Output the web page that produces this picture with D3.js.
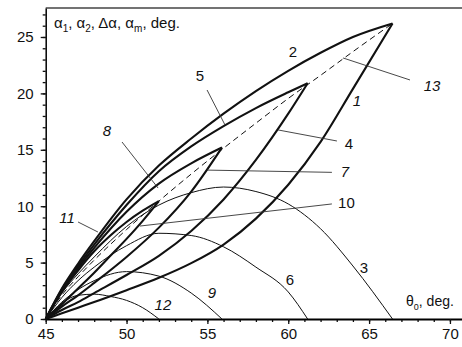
<!DOCTYPE html>
<meta charset="utf-8">
<style>
  body { margin: 0; background: #fff; }
  svg text { font-family: Arial, 'Liberation Sans', sans-serif; fill: #111; }
</style>
<body>
<div id="chart"></div>
<script src="https://d3js.org/d3.v7.min.js"></script>
<script>
// theta0 grids (deg.)
var thBig = [45, 46, 47, 48, 50, 52, 54, 56, 58, 60, 62, 64, 66.45];
var thMid = [45, 46, 47, 48, 50, 52, 54, 56, 58, 60, 61.2];
var thSmall = [45, 46, 47, 48, 50, 52, 54, 55.9];
var thTiny = [45, 46, 47, 48, 49, 50, 51, 52];

// curves (deg.)
var curve1 = [0, 0.5, 1.0, 1.5, 2.55, 3.65, 4.95, 6.6, 8.9, 11.9, 15.7, 20.4, 26.2];
var curve2 = [0, 2.7, 4.9, 6.9, 10.6, 13.6, 16.0, 18.2, 20.2, 22.0, 23.6, 25.0, 26.2];
var curve3 = [0, 2.3, 4.0, 5.5, 8.2, 10.1, 11.2, 11.7, 11.3, 10.2, 8.0, 4.7, 0];
var curve13 = [0, 2.12, 3.74, 5.22, 7.93, 10.45, 12.85, 15.14, 17.36, 19.55, 21.6, 23.7, 26.2];

var curve4 = [0, 0.8, 1.5, 2.3, 3.9, 5.6, 7.8, 10.6, 14.1, 18.2, 20.9];
var curve5 = [0, 2.6, 4.7, 6.6, 10.1, 13.1, 15.3, 17.1, 18.7, 20.1, 20.9];
var curve6 = [0, 1.9, 3.4, 4.6, 6.5, 7.6, 7.4, 6.4, 4.6, 2.4, 0];

var curve7 = [0, 1.1, 2.1, 3.2, 5.5, 8.1, 11.3, 15.2];
var curve8 = [0, 2.5, 4.5, 6.3, 9.5, 12.0, 13.8, 15.2];
var curve9 = [0, 1.5, 2.6, 3.4, 4.2, 3.8, 2.3, 0];

var curve10 = [0, 1.3, 2.7, 4.1, 5.6, 7.1, 8.7, 10.45];
var curve11 = [0, 2.4, 4.3, 6.0, 7.4, 8.6, 9.6, 10.45];
var curve12 = [0, 1.4, 2.1, 2.2, 2.0, 1.65, 1.0, 0];

var xTicks = [45, 50, 55, 60, 65, 70];
var yTicks = [0, 5, 10, 15, 20, 25];

// curve labels: [text, theta, value, italic]
var labels = [
  ["1", 64.25, 19.33, true], ["2", 60.29, 23.67, false], ["3", 64.68, 4.52, false],
  ["4", 63.76, 15.51, false], ["5", 54.54, 21.54, false], ["6", 60.11, 3.46, false],
  ["7", 63.51, 13.03, true], ["8", 48.79, 16.67, true], ["9", 55.28, 2.3, true],
  ["10", 63.6, 10.28, false], ["11", 46.32, 8.95, true], ["12", 52.25, 1.24, true],
  ["13", 68.89, 20.66, true]
];
// leader lines: [theta1, v1, theta2, v2]
var leaders = [
  [63.39, 23.14, 67.53, 21.19], [59.37, 16.76, 63.01, 15.78], [54.98, 20.3, 56.09, 17.2],
  [49.72, 15.69, 51.95, 11.61], [54.98, 13.2, 62.7, 13.0], [50.83, 8.24, 62.7, 10.2],
  [47.0, 8.6, 48.23, 7.71]
];

var W = 462, H = 347;
var svg = d3.select("#chart").append("svg")
    .attr("width", W).attr("height", H);

var x = d3.scaleLinear().domain([45, 71]).range([45.7, 466.1]);
var y = d3.scaleLinear().domain([0, 27.57]).range([319, 8]);

// frame top line
svg.append("line")
    .attr("x1", x(45)).attr("x2", W)
    .attr("y1", y(27.57)).attr("y2", y(27.57))
    .attr("stroke", "#444").attr("stroke-width", 1.3);

// minor ticks
svg.append("g")
    .attr("transform", "translate(0," + y(0) + ")")
    .call(d3.axisBottom(x).tickValues(d3.range(45, 71, 1)).tickSize(3).tickFormat(""))
    .call(function(g) { g.select(".domain").remove(); });
svg.append("g")
    .attr("transform", "translate(" + x(45) + ",0)")
    .call(d3.axisLeft(y).tickValues(d3.range(0, 28, 1)).tickSize(3).tickFormat(""))
    .call(function(g) { g.select(".domain").remove(); });

// major axes
var xAxis = svg.append("g")
    .attr("transform", "translate(0," + y(0) + ")")
    .call(d3.axisBottom(x).tickValues(xTicks).tickSize(5).tickSizeOuter(0).tickPadding(4));
xAxis.select(".domain").attr("stroke-width", 2);
var yAxis = svg.append("g")
    .attr("transform", "translate(" + x(45) + ",0)")
    .call(d3.axisLeft(y).tickValues(yTicks).tickSize(5).tickSizeOuter(0).tickPadding(7));
yAxis.select(".domain").attr("stroke-width", 1.5);
svg.selectAll(".tick line").attr("stroke", "#111").attr("stroke-width", 1.3);
svg.selectAll(".tick text").style("font-size", "15px").attr("fill", "#111");

var line = d3.line()
    .x(function(d) { return x(d[0]); })
    .y(function(d) { return y(d[1]); })
    .curve(d3.curveMonotoneX);

function draw(th, vals, width, dash) {
  svg.append("path")
      .datum(d3.zip(th, vals))
      .attr("d", line)
      .attr("fill", "none")
      .attr("stroke", "#111")
      .attr("stroke-width", width)
      .attr("stroke-dasharray", dash || null)
      .attr("stroke-linejoin", "miter");
}

// thin delta-alpha curves
draw(thBig, curve3, 1);
draw(thMid, curve6, 1);
draw(thSmall, curve9, 1);
draw(thTiny, curve12, 1);
// dashed mean
draw(thBig, curve13, 1, "6,4");
// thick lens curves
draw(thBig, curve1, 2.1);
draw(thBig, curve2, 2.1);
draw(thMid, curve4, 2.1);
draw(thMid, curve5, 2.1);
draw(thSmall, curve7, 2.1);
draw(thSmall, curve8, 2.1);
draw(thTiny, curve10, 2.1);
draw(thTiny, curve11, 2.1);

// leaders
svg.selectAll(".leader").data(leaders).enter().append("line")
    .attr("x1", function(d) { return x(d[0]); })
    .attr("y1", function(d) { return y(d[1]); })
    .attr("x2", function(d) { return x(d[2]); })
    .attr("y2", function(d) { return y(d[3]); })
    .attr("stroke", "#333").attr("stroke-width", 0.9);

svg.selectAll(".lbl").data(labels).enter().append("text")
    .attr("x", function(d) { return x(d[1]); })
    .attr("y", function(d) { return y(d[2]); })
    .attr("text-anchor", "middle")
    .attr("dy", "0.35em")
    .style("font-size", "15px")
    .style("font-style", function(d) { return d[3] ? "italic" : "normal"; })
    .text(function(d) { return d[0]; });

// axis titles
var t1 = svg.append("text").attr("x", 54).attr("y", 28).style("font-size", "15px");
[["α", "1", ", "], ["α", "2", ", Δα, "], ["α", "m", ", deg."]].forEach(function(p) {
  t1.append("tspan").text(p[0]);
  t1.append("tspan").attr("dy", 4).style("font-size", "10px").text(p[1]);
  t1.append("tspan").attr("dy", -4).text(p[2]);
});
var t2 = svg.append("text").attr("x", 406).attr("y", 306).style("font-size", "14px");
t2.append("tspan").text("θ");
t2.append("tspan").attr("dy", 4).style("font-size", "9px").text("0");
t2.append("tspan").attr("dy", -4).text(", deg.");
</script>
</body>
